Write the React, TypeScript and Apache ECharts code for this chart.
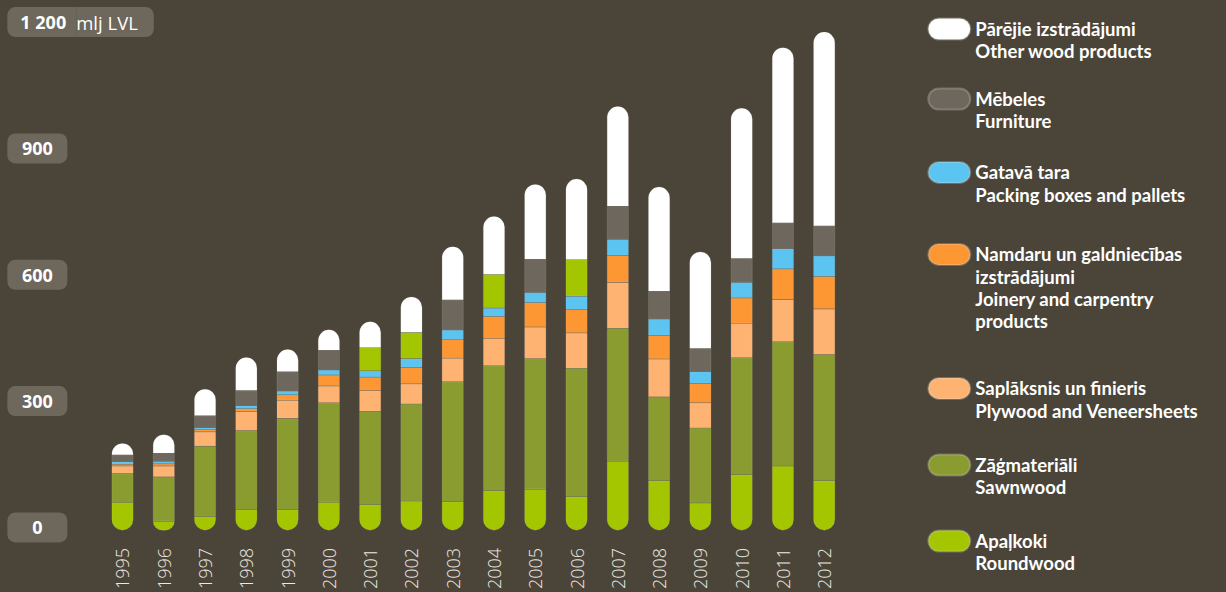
import React, { useEffect, useRef } from "react";
import * as echarts from "echarts";

const years = ["1995","1996","1997","1998","1999","2000","2001","2002","2003","2004","2005","2006","2007","2008","2009","2010","2011","2012"];
const roundwood = [66, 22, 33, 49, 49, 67, 61, 70, 68, 94, 98, 80, 164, 118, 65, 132, 153, 118];
const sawnwood = [69, 105, 167, 188, 217, 236, 222, 230, 285, 297, 310, 305, 316, 199, 178, 278, 295, 300];
const plywood = [18, 26, 34, 45, 43, 40, 49, 48, 56, 65, 75, 84, 109, 90, 60, 82, 100, 108];
const joinery = [4, 5, 5, 7, 13, 26, 32, 39, 45, 52, 58, 56, 64, 56, 46, 60, 73, 77];
const packing = [6, 6, 5, 7, 9, 12, 15, 21, 22, 20, 24, 31, 38, 39, 28, 37, 48, 49];
const furniture = [16, 19, 28, 36, 46, 47, 55, 62, 71, 80, 79, 87, 79, 66, 55, 57, 61, 71];
const other = [28, 45, 64, 79, 53, 49, 62, 85, 127, 138, 178, 192, 237, 248, 230, 357, 417, 461];
const limeFurnitureYears = ["2001", "2002", "2004", "2006"];

const yTicks = [0, 300, 600, 900, 1200];
const unitLabel = "mlj LVL";

const seriesNames = ["Roundwood", "Sawnwood", "Plywood", "Joinery", "Packing", "Furniture", "Other"];
const latvianNames = ["Apaļkoki", "Zāģmateriāli", "Saplāksnis un finieris", "Namdaru un galdniecības\nizstrādājumi", "Gatavā tara", "Mēbeles", "Pārējie izstrādājumi"];
const englishNames = ["Roundwood", "Sawnwood", "Plywood and Veneersheets", "Joinery and carpentry\nproducts", "Packing boxes and pallets", "Furniture", "Other wood products"];

const BG = "#4b4539";
const BOX = "#6d675c";
const COLORS = ["#a4c600", "#8a9c30", "#feb373", "#fd9734", "#5bc4f1", "#6d675d", "#ffffff"];
const LIME = "#a4c600";
const FONT = "'Open Sans', 'Noto Sans', sans-serif";
const LEGEND_FONT = "Lato, 'Open Sans', sans-serif";
const LH = 22.2;

const pill = "path://M10.5,0 L31.5,0 A10.5,10.5 0 0 1 31.5,21 L10.5,21 A10.5,10.5 0 0 1 10.5,0 Z";

export default function App() {
  const ref = useRef<HTMLDivElement>(null);
  useEffect(() => {
    document.body.style.margin = "0";
    document.body.style.background = BG;
    const chart = echarts.init(ref.current!, null, { renderer: "svg" });
    const values = [roundwood, sawnwood, plywood, joinery, packing, furniture, other];
    const series = values.map((arr, i) => ({
      name: seriesNames[i],
      type: "bar",
      stack: "total",
      barWidth: 21.7,
      itemStyle: {
        color: COLORS[i],
        borderRadius: i === 0 ? [0, 0, 11, 11] : i === 6 ? [11, 11, 0, 0] : 0,
        borderColor: "rgba(235,230,220,0.25)",
        borderWidth: 0.5,
      },
      emphasis: { disabled: true },
      data: arr.map((v, j) =>
        i === 5 && limeFurnitureYears.includes(years[j])
          ? { value: v, itemStyle: { color: LIME } }
          : v
      ),
    }));
    const iconTops = [529.3, 453.3, 376.7, 242.7, 160.7, 87.3, 17.3];
    const legends = seriesNames.map((name, i) => {
      const text = latvianNames[i] + "\n" + englishNames[i];
      const lines = text.split("\n").length;
      const blanks = lines - 1;
      const shown = "\n".repeat(blanks) + text;
      return {
        data: [name],
        orient: "vertical",
        left: 927.3,
        top: iconTops[i] - blanks * LH + (LH - 21) / 2,
        padding: 0,
        itemWidth: 42,
        itemHeight: 21,
        itemGap: 0,
        icon: pill,
        selectedMode: false,
        formatter: () => shown,
        textStyle: {
          color: "#ffffff",
          fontFamily: LEGEND_FONT,
          fontWeight: "bold",
          fontSize: 18.5,
          lineHeight: LH,
        },
      };
    });
    chart.setOption({
      animation: false,
      backgroundColor: BG,
      grid: { left: 101.86, right: 381.16, top: 25.1, bottom: 61.5 },
      legend: legends,
      xAxis: {
        type: "category",
        data: years,
        axisLine: { show: false },
        axisTick: { show: false },
        axisLabel: {
          rotate: 90,
          margin: 17.5,
          color: "#ebe8e2",
          fontFamily: FONT,
          fontWeight: 300,
          fontSize: 18,
        },
      },
      yAxis: {
        type: "value",
        min: yTicks[0],
        max: yTicks[yTicks.length - 1],
        interval: yTicks[1] - yTicks[0],
        splitLine: { show: false },
        axisLine: { show: false },
        axisTick: { show: false },
        axisLabel: {
          showMinLabel: true,
          showMaxLabel: true,
          align: "left",
          margin: 94.5,
          padding: [0, 0, 6, 0],
          formatter: (v: number) =>
            v === yTicks[yTicks.length - 1]
              ? "{b|" + String(v).replace(/(\d)(?=(\d{3})$)/, "$1 ") + "}{u|" + unitLabel + "}"
              : "{n|" + v + "}",
          rich: {
            n: {
              width: 60, height: 30, align: "center", backgroundColor: BOX, borderRadius: 8,
              color: "#fff", fontFamily: FONT, fontWeight: "bold", fontSize: 18,
            },
            b: {
              height: 30, align: "left", padding: [0, 10, 0, 13], backgroundColor: BOX, borderRadius: [8, 0, 0, 8],
              color: "#fff", fontFamily: FONT, fontWeight: "bold", fontSize: 18,
            },
            u: {
              height: 30, align: "left", padding: [0, 16, 0, 0], backgroundColor: BOX, borderRadius: [0, 8, 8, 0],
              color: "#fff", fontFamily: FONT, fontWeight: "normal", fontSize: 18.5,
            },
          },
        },
      },
      series,
    });
    return () => chart.dispose();
  }, []);
  return <div ref={ref} style={{ width: 1226, height: 592, background: BG }} />;
}
